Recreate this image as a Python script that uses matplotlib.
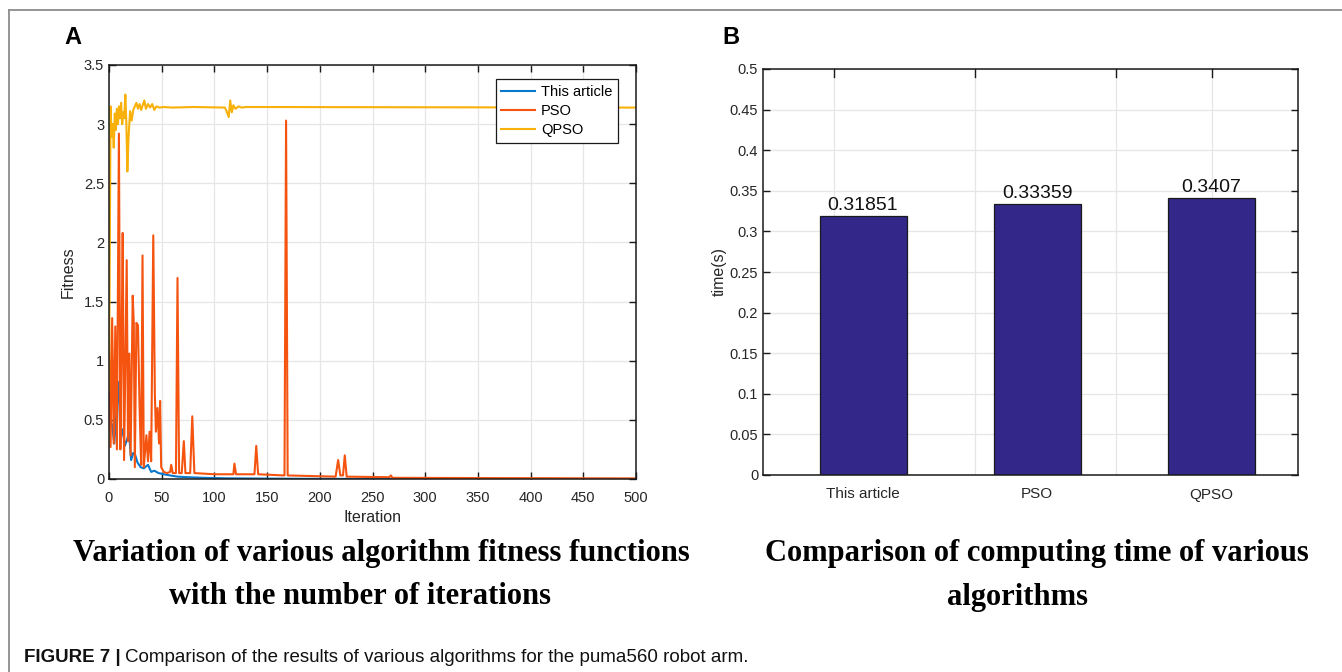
import matplotlib
matplotlib.use('Agg')
import matplotlib.pyplot as plt
from matplotlib.lines import Line2D

plt.rcParams['font.family'] = ['Liberation Sans', 'DejaVu Sans']

# ---- data: panel A (vertices) ----
this_x = [1, 3, 5, 7, 9, 11, 13, 15, 17, 19, 21, 23, 25, 27, 30, 33, 37, 40, 43, 47,
          52, 58, 65, 75, 90, 110, 140, 180, 230, 300, 500]
this_y = [0.51, 0.45, 0.3, 0.55, 0.82, 0.35, 0.42, 0.28, 0.33, 0.39, 0.16, 0.22, 0.2,
          0.14, 0.10, 0.09, 0.12, 0.06, 0.07, 0.05, 0.04, 0.03, 0.02, 0.015, 0.01,
          0.006, 0.004, 0.002, 0.001, 0.0005, 0.0]

pso_x = [0, 1.5, 3, 4.5, 6, 7.5, 9.4, 10.8, 12, 13, 14.3, 16.8, 18, 19.3, 20.5, 22.5,
         23.5, 24.5, 26, 27.5, 29, 30.5, 31.8, 33, 35.5, 37, 38.5, 40, 42, 43.5, 44.5,
         46, 47.5, 48.5, 49.5, 52, 55, 58, 59, 60.5, 63.5, 65, 66.5, 69, 71, 72.5, 77,
         79, 81, 100, 118, 119, 120.5, 138, 139.7, 141.5, 166.5, 168, 169.5, 215,
         217.4, 219.5, 222, 223.7, 225.5, 266, 267.4, 269, 350, 500]
pso_y = [1.28, 0.27, 1.36, 0.3, 1.29, 0.25, 2.92, 0.25, 1.2, 2.08, 0.16, 1.85, 0.32,
         1.06, 0.2, 1.55, 1.32, 0.1, 1.32, 1.3, 0.61, 0.12, 1.89, 0.1, 0.37, 0.15, 0.4,
         0.15, 2.06, 0.72, 0.4, 0.6, 0.3, 0.66, 0.1, 0.06, 0.05, 0.06, 0.12, 0.05, 0.05,
         1.70, 0.05, 0.05, 0.32, 0.05, 0.05, 0.53, 0.05, 0.04, 0.04, 0.13, 0.04, 0.04,
         0.28, 0.04, 0.03, 3.03, 0.03, 0.02, 0.16, 0.03, 0.03, 0.2, 0.02, 0.015, 0.03,
         0.01, 0.008, 0.005]

qpso_x = [0, 1.5, 2.5, 3.5, 4.5, 5.5, 6.5, 7.5, 8.5, 9.5, 10.5, 11.5, 12.5, 13.5, 14.5,
          15.5, 16.5, 17.4, 18.5, 20, 21.5, 23, 24.5, 26, 27.5, 29, 30.5, 32, 33.5, 35,
          37, 39, 41, 43, 45, 48, 52, 60, 80, 110, 112, 113.6, 115, 116.5, 118, 120,
          123, 126, 130, 500]
qpso_y = [0.75, 3.15, 2.89, 3.0, 2.8, 3.09, 2.95, 3.13, 3.0, 3.15, 3.05, 3.18, 3.0, 3.1,
          3.05, 3.25, 3.0, 2.60, 2.88, 3.11, 3.03, 3.12, 3.15, 3.18, 3.13, 3.17, 3.12,
          3.16, 3.2, 3.13, 3.17, 3.14, 3.17, 3.12, 3.15, 3.14, 3.145, 3.14, 3.145, 3.14,
          3.1, 3.06, 3.2, 3.1, 3.16, 3.13, 3.15, 3.14, 3.145, 3.14]

# ---- data: panel B ----
algos = ['This article', 'PSO', 'QPSO']
times = [0.31851, 0.33359, 0.3407]
time_labels = ['0.31851', '0.33359', '0.3407']

txt = '#262626'
fig = plt.figure(figsize=(13.42, 6.72), dpi=100)

# frame lines (top and left)
fig.add_artist(Line2D([9/1342, 1], [1-10/672, 1-10/672], color='#8c8c8c', lw=1.3))
fig.add_artist(Line2D([9/1342, 9/1342], [0, 1-10/672], color='#8c8c8c', lw=1.3))


def matlab_axes(ax):
    ax.tick_params(direction='in', top=True, right=True, labelsize=10.5,
                   colors='#1a1a1a', labelcolor=txt, length=5, width=1)
    ax.grid(True, color='#e6e6e6', lw=0.9)
    ax.set_axisbelow(True)
    for s in ax.spines.values():
        s.set_color('#1a1a1a')
        s.set_linewidth(1.1)


# ---- panel A ----
ax1 = fig.add_axes([109/1342, 1-479/672, 527/1342, 414/672])
ax1.plot(this_x, this_y, color='#0a78cc', lw=1.5, label='This article')
ax1.plot(pso_x, pso_y, color='#f55410', lw=1.5, label='PSO')
ax1.plot(qpso_x, qpso_y, color='#f8b10a', lw=1.5, label='QPSO')
ax1.set_xlim(0, 500)
ax1.set_ylim(0, 3.5)
ax1.set_xticks(range(0, 501, 50))
ax1.set_yticks([0, 0.5, 1, 1.5, 2, 2.5, 3, 3.5])
ax1.set_yticklabels(['0', '0.5', '1', '1.5', '2', '2.5', '3', '3.5'])
matlab_axes(ax1)
ax1.tick_params(axis='x', pad=9)
ax1.set_xlabel('Iteration', fontsize=11.5, color=txt, labelpad=3)
ax1.set_ylabel('Fitness', fontsize=11.5, color=txt, labelpad=6)
leg = ax1.legend(loc='upper right', bbox_to_anchor=(0.966, 0.966), fontsize=10.5,
                 fancybox=False, edgecolor='#1a1a1a', framealpha=1,
                 handlelength=2.3, borderpad=0.4, labelspacing=0.35,
                 handletextpad=0.4, borderaxespad=0)
leg.get_frame().set_linewidth(0.9)

# ---- panel B ----
ax2 = fig.add_axes([763/1342, 1-475/672, 535/1342, 406/672])
pos = [1, 2, 3]
bars = ax2.bar(pos, times, width=0.5, color='#33288a', edgecolor='#1a1a1a', lw=0.9)
for b, lab in zip(bars, time_labels):
    ax2.text(b.get_x() + b.get_width()/2, b.get_height() + 0.003, lab,
             ha='center', va='bottom', fontsize=14, color='#111111')
ax2.set_xlim(0.425, 3.5)
ax2.set_ylim(0, 0.5)
ax2.set_yticks([i*0.05 for i in range(11)])
ax2.set_yticklabels(['0', '0.05', '0.1', '0.15', '0.2', '0.25', '0.3', '0.35',
                     '0.4', '0.45', '0.5'])
ax2.set_xticks(pos)
ax2.set_xticklabels(algos)
matlab_axes(ax2)
ax2.grid(False, axis='x')
ax2.tick_params(axis='x', bottom=False, top=False, pad=9, labelsize=11)
for gx in [0.833, 1.644, 2.454, 3.006]:
    ax2.axvline(gx, color='#e6e6e6', lw=0.9, zorder=0)
    ax2.plot([gx, gx], [0.5, 0.49], color='#1a1a1a', lw=1, clip_on=False)
ax2.set_ylabel('time(s)', fontsize=11.5, color=txt, labelpad=2)

# ---- panel letters ----
fig.text(64/1342, 1-37/672, 'A', fontsize=17, fontweight='bold', va='center')
fig.text(722/1342, 1-37/672, 'B', fontsize=17, fontweight='bold', va='center')

# ---- subtitles ----
serif = ['Liberation Serif', 'DejaVu Serif']
fig.text(381/1342, 1-553/672, 'Variation of various algorithm fitness functions',
         family=serif, fontsize=22, fontweight='bold', ha='center', va='center')
fig.text(360/1342, 1-597/672, 'with the number of iterations',
         family=serif, fontsize=22, fontweight='bold', ha='center', va='center')
fig.text(1037/1342, 1-553/672, 'Comparison of computing time of various',
         family=serif, fontsize=22, fontweight='bold', ha='center', va='center')
fig.text(1017/1342, 1-597/672, 'algorithms',
         family=serif, fontsize=22, fontweight='bold', ha='center', va='center')

# ---- caption ----
cap1 = fig.text(24/1342, 1-657/672, 'FIGURE 7 |', fontsize=13.5, fontweight='bold',
                va='center', color='#111111')
r = fig.canvas.get_renderer()
bb = cap1.get_window_extent(renderer=r)
fig.text((bb.x1 + 4)/1342, 1-657/672,
         'Comparison of the results of various algorithms for the puma560 robot arm.',
         fontsize=13.5, va='center', color='#111111')

fig.savefig('out.png', dpi=100)
